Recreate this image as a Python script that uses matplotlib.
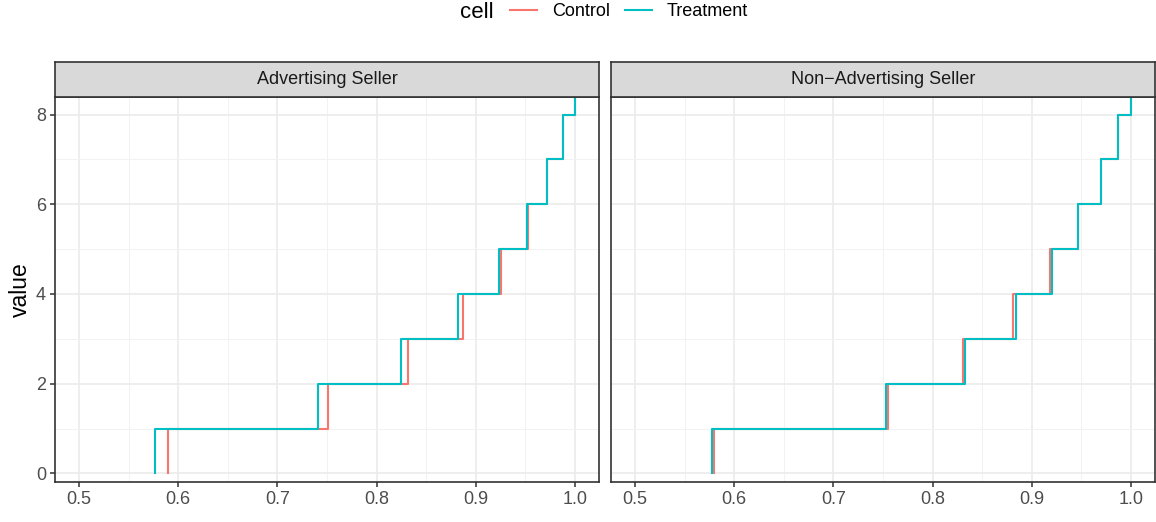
import numpy as np
import matplotlib
matplotlib.use("Agg")
import matplotlib.pyplot as plt
from matplotlib.ticker import MultipleLocator

plt.rcParams['font.family'] = ['Liberation Sans', 'DejaVu Sans']

# values where each step rises from level k to k+1
levels = [0, 1, 2, 3, 4, 5, 6, 7, 8, 9]
panels = ["Advertising Seller", "Non\u2212Advertising Seller"]
adv_control = [0.590, 0.751, 0.832, 0.887, 0.925, 0.953, 0.972, 0.988, 1.0, 1.0]
adv_treatment = [0.577, 0.741, 0.825, 0.882, 0.923, 0.952, 0.972, 0.988, 1.0, 1.0]
non_control = [0.580, 0.755, 0.831, 0.881, 0.9185, 0.947, 0.970, 0.987, 1.0, 1.0]
non_treatment = [0.578, 0.753, 0.833, 0.884, 0.920, 0.947, 0.970, 0.987, 1.0, 1.0]
series = [(adv_control, adv_treatment), (non_control, non_treatment)]
cells = ["Control", "Treatment"]
colors = ["#F8766D", "#00BFC4"]

W, H = 1156, 522
fig = plt.figure(figsize=(W / 100, H / 100), dpi=100)

def px_axes(x0, y0, x1, y1):
    return fig.add_axes([x0 / W, 1 - y1 / H, (x1 - x0) / W, (y1 - y0) / H])

lefts = [55, 611]
width = 544
handles = []
for i, (name, data) in enumerate(zip(panels, series)):
    x0 = lefts[i]
    ax = px_axes(x0, 97, x0 + width, 482)
    ax.set_xlim(0.4758, 1.0242)
    ax.set_ylim(-0.19, 8.39)
    ax.xaxis.set_major_locator(MultipleLocator(0.1))
    ax.xaxis.set_minor_locator(MultipleLocator(0.05))
    ax.yaxis.set_major_locator(MultipleLocator(2))
    ax.yaxis.set_minor_locator(MultipleLocator(1))
    ax.grid(which='major', color='#EBEBEB', lw=1.2)
    ax.grid(which='minor', color='#F2F2F2', lw=0.7)
    ax.set_axisbelow(True)
    for s in ax.spines.values():
        s.set_color('#333333')
        s.set_linewidth(1.2)
    ax.tick_params(which='minor', length=0)
    ax.tick_params(which='major', length=3.5, width=1.1, color='#333333',
                   labelcolor='#4D4D4D', labelsize=13, pad=3)
    ax.set_xticks([0.5, 0.6, 0.7, 0.8, 0.9, 1.0])
    ax.set_xticklabels(["0.5", "0.6", "0.7", "0.8", "0.9", "1.0"])
    for xs, lab, c in zip(data, cells, colors):
        ln, = ax.plot(xs, levels, drawstyle='steps-pre', color=c, lw=1.5, label=lab)
        if i == 0:
            handles.append(ln)
    if i == 0:
        ax.set_ylabel("value", fontsize=16.5, labelpad=3)
    else:
        ax.tick_params(axis='y', which='both', length=0, labelleft=False)
    # strip
    sax = px_axes(x0, 62, x0 + width, 97)
    sax.set_facecolor('#D9D9D9')
    sax.set_xticks([])
    sax.set_yticks([])
    for s in sax.spines.values():
        s.set_color('#333333')
        s.set_linewidth(1.2)
    sax.text(0.5, 0.5, name, ha='center', va='center', fontsize=13, color='#1A1A1A',
             transform=sax.transAxes)

fig.text(477 / W, 1 - 13 / H, "cell", ha='center', va='center', fontsize=16)
fig.legend(handles=handles, labels=cells, loc='center', bbox_to_anchor=(629 / W, 1 - 12 / H),
           ncol=2, frameon=False, fontsize=13, handlelength=1.5, handletextpad=0.83,
           columnspacing=0.83, borderaxespad=0, borderpad=0)

fig.savefig("out.png", dpi=100)
